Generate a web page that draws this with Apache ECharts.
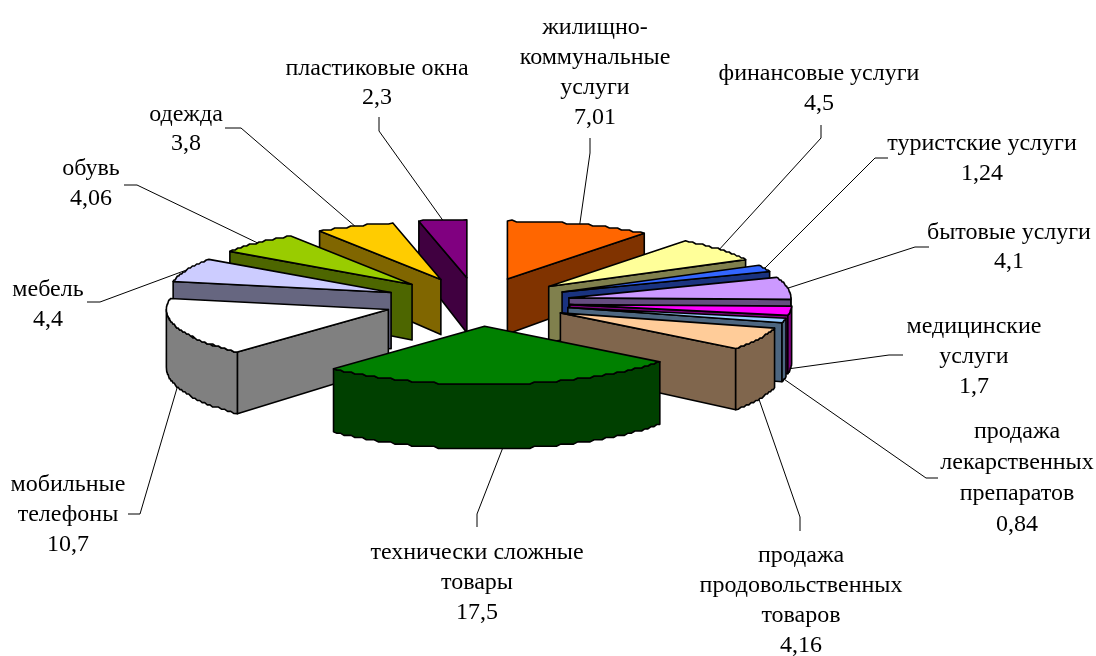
<!DOCTYPE html>
<html>
<head>
<meta charset="utf-8">
<title>pie</title>
<script src="https://cdn.jsdelivr.net/npm/echarts@6/dist/echarts.min.js"></script>
<style>
  html, body { margin: 0; padding: 0; background: #fff; }
  #chart { width: 1096px; height: 656px; }
</style>
</head>
<body>
<div id="chart"></div>
<script>
const categories = [
  'жилищно-\nкоммунальные\nуслуги',
  'финансовые услуги',
  'туристские услуги',
  'бытовые услуги',
  'медицинские\nуслуги',
  'продажа\nлекарственных\nпрепаратов',
  'продажа\nпродовольственных\nтоваров',
  'технически сложные\nтовары',
  'мобильные\nтелефоны',
  'мебель',
  'обувь',
  'одежда',
  'пластиковые окна'
]
const values = [7.01, 4.5, 1.24, 4.1, 1.7, 0.84, 4.16, 17.5, 10.7, 4.4, 4.06, 3.8, 2.3]
const topColors = ['#FF6600', '#FFFF99', '#3366FF', '#CC99FF', '#FF00FF', '#99CCFF', '#FFCC99',
  '#008000', '#FFFFFF', '#CCCCFF', '#99CC00', '#FFCC00', '#800080']

// label text: centre x, centre y of first line, line height
const labelPos = [
  [595, 28, 30], [819, 74, 30], [982, 144, 30], [1009, 233, 29], [974, 327, 30], [1017, 432, 31],
  [801, 556, 30], [477, 553, 30], [68, 485, 30], [48, 290, 30], [91, 169, 30], [186, 115, 29], [377, 69, 29]
]
// leader line: stub start, elbow (the far end comes from the slice itself)
const leaderPos = [
  [[590, 138], [590, 153]], [[821, 125], [821, 138]], [[888, 158], [875, 158]], [[929, 247], [915, 247]],
  [[903, 355], [889, 355]], [[938, 478], [926, 478]], [[800, 531], [800, 517]], [[477, 527], [477, 514]],
  [[128, 514], [140, 514]], [[87, 302], [100, 302]], [[124, 185], [137, 185]], [[225, 128], [241, 128]], [[379, 117], [379, 131]]
]

// flat projection of the pie
const CX = 477, CY = 302, RX = 222, RY = 58, EXPLODE = 0.42
const total = values.reduce((a, b) => a + b, 0)

const rad = (d) => d * Math.PI / 180
const dir = (deg, r) => [r * RX * Math.sin(rad(deg)), -r * RY * Math.cos(rad(deg))]
const wallH = (y) => 55 + 0.09 * (y - 279) // walls get a bit taller towards the viewer
const drop = (p) => [p[0], p[1] + wallH(p[1])]
const snap = (p) => [p[0], Math.round(p[1] / 2) * 2] // stepped rim like the scan

let acc = 0
const slices = values.map((v) => {
  const a0 = acc / total * 360
  acc += v
  const a1 = acc / total * 360
  const mid = (a0 + a1) / 2
  const off = dir(mid, EXPLODE)
  return { a0, a1, mid, apex: [CX + off[0], CY + off[1]] }
})

const rim = (s, deg) => {
  const d = dir(deg, 1)
  return [s.apex[0] + d[0], s.apex[1] + d[1]]
}
const arcPoints = (s, from, to) => {
  const pts = [rim(s, from)]
  const n = Math.max(1, Math.ceil((to - from) / 1.2))
  for (let k = 1; k < n; k++) pts.push(snap(rim(s, from + (to - from) * k / n)))
  pts.push(rim(s, to))
  return pts
}
const darken = (hex) => {
  const n = parseInt(hex.slice(1), 16)
  const c = [n >> 16, (n >> 8) & 255, n & 255].map((x) => Math.round(x / 2))
  return `rgb(${c.join(',')})`
}
const face = (points, fill) => ({
  type: 'polygon',
  shape: { points },
  style: { fill, stroke: '#000', lineWidth: 1.6, lineJoin: 'round' }
})

const renderSlice = (params, api) => {
  const i = api.value(0)
  const s = slices[i]
  const wall = darken(topColors[i])
  const children = []
  const side = (deg) => {
    const p = rim(s, deg)
    children.push(face([s.apex, p, drop(p), drop(s.apex)], wall))
  }
  if (Math.sin(rad(s.a0)) < -1e-6) side(s.a0)
  if (Math.sin(rad(s.a1)) > 1e-6) side(s.a1)
  const from = Math.max(s.a0, 90), to = Math.min(s.a1, 270)
  if (to > from) {
    const front = arcPoints(s, from, to)
    children.push(face(front.concat(front.map(drop).reverse()), wall))
  }
  children.push(face([s.apex].concat(arcPoints(s, s.a0, s.a1)), topColors[i]))
  return { type: 'group', children }
}

const renderLabel = (params, api) => {
  const i = api.value(0)
  const s = slices[i]
  const [x, y, lh] = labelPos[i]
  const p = rim(s, s.mid)
  const end = Math.cos(rad(s.mid)) < 0 ? drop(p) : p
  return {
    type: 'group',
    children: [
      {
        type: 'polyline',
        shape: { points: [leaderPos[i][0], leaderPos[i][1], end] },
        style: { fill: null, stroke: '#000', lineWidth: 1 }
      },
      {
        type: 'text',
        x,
        y: y - lh / 2,
        style: {
          text: categories[i] + '\n' + String(values[i]).replace('.', ','),
          font: '24px "Liberation Serif"',
          fill: '#000',
          align: 'center',
          verticalAlign: 'top',
          lineHeight: lh
        }
      }
    ]
  }
}

const chart = echarts.init(document.getElementById('chart'))
// back slices first so the front ones cover them
const order = values.map((v, i) => i).sort((a, b) => Math.cos(rad(slices[b].mid)) - Math.cos(rad(slices[a].mid)))

chart.setOption({
  animation: false,
  backgroundColor: '#fff',
  series: [
    { type: 'custom', coordinateSystem: 'none', z: 2, silent: true, renderItem: renderLabel, data: values.map((v, i) => [i]) },
    { type: 'custom', coordinateSystem: 'none', z: 3, silent: true, renderItem: renderSlice, data: order.map((i) => [i]) }
  ]
})
</script>
</body>
</html>
